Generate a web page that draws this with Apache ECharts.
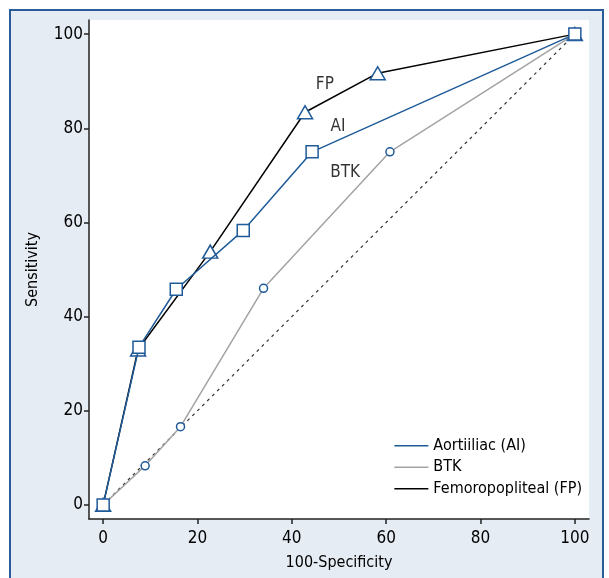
<!DOCTYPE html>
<html>
<head>
<meta charset="utf-8">
<script src="https://cdn.jsdelivr.net/npm/echarts@6/dist/echarts.min.js"></script>
<style>
  body { margin: 0; background: #fff; }
  #frame { position: absolute; left: 9px; top: 9px; width: 591px; height: 580px;
           background: #e5ecf4; border: 2px solid #2b5c9a; }
  #main { position: absolute; left: 0; top: 0; width: 609px; height: 578px; }
</style>
</head>
<body>
<div id="frame"></div>
<div id="main"></div>
<script>
var fontName = '"Liberation Sans Narrow", "DejaVu Sans Condensed", sans-serif';

// ROC points [100-specificity, sensitivity]
var aiPoints = [[0, 0], [7.6, 33.5], [15.5, 45.8], [29.7, 58.3], [44.3, 75], [100, 100]];
var btkPoints = [[0, 0], [8.9, 8.3], [16.4, 16.6], [34, 46], [60.8, 75], [100, 100]];
var fpPoints = [[0, 0], [7.4, 33], [22.7, 53.8], [42.8, 83.4], [58.2, 91.7], [100, 100]];
var refLine = [[0, 0], [100, 100]];
var tickValues = [0, 20, 40, 60, 80, 100];
var curveLabels = [['FP', 47, 89.3], ['AI', 49.8, 80.3], ['BTK', 51.3, 70.5]];

var blue = '#1f5a99', grey = '#a3a3a3', black = '#000000';

var mChart = echarts.init(document.getElementById('main'));

function makeAxis(name, gap, margin) {
    return {
        type: 'value',
        min: -3,
        max: 103,
        name: name,
        nameLocation: 'middle',
        nameGap: gap,
        splitLine: {show: false},
        axisLine: {show: true, onZero: false, lineStyle: {color: '#222', width: 1.5}},
        axisTick: {show: true, length: 5, customValues: tickValues, lineStyle: {color: '#222', width: 1.5}},
        axisLabel: {color: '#000', fontSize: 17, fontFamily: fontName, margin: margin, customValues: tickValues},
        nameTextStyle: {color: '#000', fontSize: 16, fontFamily: fontName}
    };
}

var option = {
    animation: false,
    grid: {
        left: 89, right: 20, top: 20, bottom: 59,
        show: true, backgroundColor: '#ffffff', borderWidth: 0
    },
    xAxis: makeAxis('100-Specificity', 36, 11),
    yAxis: makeAxis('Sensitivity', 48, 6),
    legend: {
        right: 22, top: 430,
        orient: 'vertical',
        itemGap: 0,
        itemWidth: 34,
        itemHeight: 1.5,
        icon: 'rect',
        textStyle: {color: '#000', fontSize: 16, fontFamily: fontName, lineHeight: 21.5},
        data: [
            {name: 'Aortiiliac (AI)', itemStyle: {color: blue, borderWidth: 0}},
            {name: 'BTK', itemStyle: {color: grey, borderWidth: 0}},
            {name: 'Femoropopliteal (FP)', itemStyle: {color: black, borderWidth: 0}}
        ]
    },
    series: [
        {
            type: 'line', data: refLine, symbol: 'none', silent: true,
            lineStyle: {color: '#333', width: 1.2, type: [3, 4]}, z: 1
        },
        {
            name: 'BTK', type: 'line', data: btkPoints,
            symbol: 'circle', symbolSize: 8,
            lineStyle: {color: grey, width: 1.5},
            itemStyle: {color: '#fff', borderColor: blue, borderWidth: 1.5}, z: 2
        },
        {
            name: 'Femoropopliteal (FP)', type: 'line', data: fpPoints,
            symbol: 'triangle', symbolSize: [15, 13],
            lineStyle: {color: black, width: 1.5},
            itemStyle: {color: '#fff', borderColor: blue, borderWidth: 1.5}, z: 3
        },
        {
            name: 'Aortiiliac (AI)', type: 'line', data: aiPoints,
            symbol: 'rect', symbolSize: 12,
            lineStyle: {color: blue, width: 1.5},
            itemStyle: {color: '#fff', borderColor: blue, borderWidth: 1.5}, z: 4
        },
        {
            type: 'scatter', symbolSize: 0, silent: true,
            data: curveLabels.map(function (d) { return {name: d[0], value: [d[1], d[2]]}; }),
            label: {show: true, position: 'inside', formatter: '{b}', color: '#000',
                fontSize: 17, fontFamily: fontName}
        }
    ]
};
mChart.setOption(option);
</script>
</body>
</html>
